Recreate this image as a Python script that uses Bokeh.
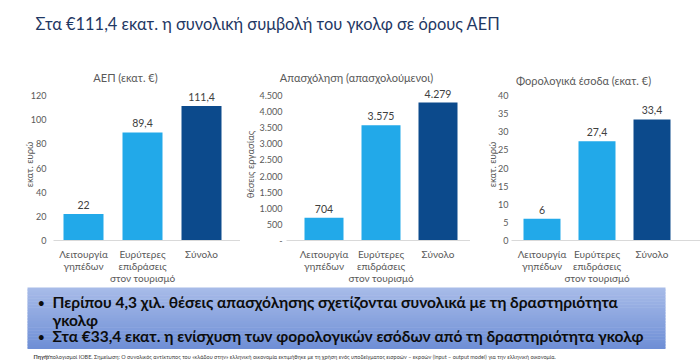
from bokeh.plotting import figure
from bokeh.layouts import column, row
from bokeh.models import Range1d, FixedTicker
from bokeh.core.properties import value
from bokeh.embed import file_html
from bokeh.resources import INLINE

FONT = "Lato"

# ---------------- data ----------------
page_title = "Στα €111,4 εκατ. η συνολική συμβολή του γκολφ σε όρους ΑΕΠ"
categories = ["Λειτουργία\nγηπέδων", "Ευρύτερες\nεπιδράσεις\nστον τουρισμό", "Σύνολο"]
bar_colors = ["#22A9E9", "#22A9E9", "#0C4A8C"]

chart_titles = ["ΑΕΠ (εκατ. €)", "Απασχόληση (απασχολούμενοι)", "Φορολογικά έσοδα (εκατ. €)"]

gdp_ylabel = "εκατ. ευρώ"
gdp_values = [22, 89.4, 111.4]
gdp_value_labels = ["22", "89,4", "111,4"]
gdp_ticks = [0, 20, 40, 60, 80, 100, 120]
gdp_tick_labels = ["0", "20", "40", "60", "80", "100", "120"]

jobs_ylabel = "θέσεις εργασίας"
jobs_values = [704, 3575, 4279]
jobs_value_labels = ["704", "3.575", "4.279"]
jobs_ticks = [0, 500, 1000, 1500, 2000, 2500, 3000, 3500, 4000, 4500]
jobs_tick_labels = ["-", "500", "1.000", "1.500", "2.000", "2.500", "3.000", "3.500", "4.000", "4.500"]

tax_ylabel = "εκατ. ευρώ"
tax_values = [6, 27.4, 33.4]
tax_value_labels = ["6", "27,4", "33,4"]
tax_ticks = [0, 5, 10, 15, 20, 25, 30, 35, 40]
tax_tick_labels = ["0", "5", "10", "15", "20", "25", "30", "35", "40"]

bullets = [
    "Περίπου 4,3 χιλ. θέσεις απασχόλησης σχετίζονται συνολικά με τη δραστηριότητα\nγκολφ",
    "Στα €33,4 εκατ. η ενίσχυση των φορολογικών εσόδων από τη δραστηριότητα γκολφ",
]
note_bold = "Πηγή:"
note_text = ("Υπολογισμοί ΙΟΒΕ. Σημείωση: Ο συνολικός αντίκτυπος του «κλάδου στην» ελληνική "
             "οικονομία εκτιμήθηκε με τη χρήση ενός υποδείγματος εισροών – εκροών "
             "(input – output model) για την ελληνική οικονομία.")

# ---------------- layout constants ----------------
TOP_H = 88
FRAME_H = 152    # plot frame height: top tick 7px below its top, value 0 at its bottom
TOP_TICK_PX = 7
AXIS_B = 44      # room under the plot frame for the category axis
BOTTOM_H = 76
GREY = "#595959"


def blank(width, height):
    p = figure(width=width, height=height, x_range=Range1d(0, width), y_range=Range1d(height, 0),
               x_axis_location=None, y_axis_location=None, output_backend="svg",
               toolbar_location=None, min_border=0)
    p.xgrid.visible = False
    p.ygrid.visible = False
    p.outline_line_color = None
    return p


def make_chart(width, left_px, first_cx, spacing, bar_px, top_tick, values, vlabels,
               ticks, tick_labels, ylabel, lab_standoff, ylab_standoff):
    scale = (FRAME_H - TOP_TICK_PX) / top_tick
    x0 = (left_px - first_cx) / spacing
    x1 = (width - first_cx) / spacing
    p = figure(frame_width=width - left_px, frame_height=FRAME_H,
               x_range=Range1d(x0, x1), y_range=Range1d(0, FRAME_H / scale),
               output_backend="svg", toolbar_location=None,
               min_border_left=left_px, min_border_right=0, min_border_top=0,
               min_border_bottom=AXIS_B)
    p.xgrid.visible = False
    p.ygrid.visible = False
    p.outline_line_color = None

    xs = list(range(len(values)))

    xa = p.xaxis[0]
    xa.ticker = FixedTicker(ticks=xs)
    xa.major_label_overrides = {i: c for i, c in zip(xs, categories)}
    xa.axis_line_color = "#D9D9D9"
    xa.axis_line_width = 1
    xa.major_tick_line_color = None
    xa.minor_tick_line_color = None
    xa.major_tick_out = 0
    xa.major_tick_in = 0
    xa.minor_tick_out = 0
    xa.major_label_standoff = 7
    xa.major_label_text_font = FONT
    xa.major_label_text_font_size = "10px"
    xa.major_label_text_line_height = 1.02
    xa.major_label_text_color = GREY

    ax = p.yaxis[0]
    ax.ticker = FixedTicker(ticks=ticks)
    ax.major_label_overrides = {t: l for t, l in zip(ticks, tick_labels)}
    ax.axis_line_color = None
    ax.major_tick_line_color = None
    ax.minor_tick_line_color = None
    ax.major_tick_out = 0
    ax.major_tick_in = 0
    ax.minor_tick_out = 0
    ax.major_label_text_font = FONT
    ax.major_label_text_font_size = "9px"
    ax.major_label_text_color = GREY
    ax.major_label_standoff = lab_standoff
    ax.axis_label = ylabel
    ax.axis_label_text_font = FONT
    ax.axis_label_text_font_size = "9.5px"
    ax.axis_label_text_font_style = "normal"
    ax.axis_label_text_color = GREY
    ax.axis_label_standoff = ylab_standoff

    p.vbar(x=xs, top=values, width=bar_px / spacing, fill_color=bar_colors, line_color=None)
    p.text(x=xs, y=[v + 9 / scale for v in values], text=vlabels, text_align="center",
           text_baseline="middle", text_font=value(FONT), text_font_size="10.5px",
           text_color="#404040")
    return p


# ---------------- title strip (page title + chart titles) ----------------
tp = blank(700, TOP_H)
tp.text(x=[35], y=[23], text=[page_title], text_baseline="middle", text_font=value(FONT),
        text_font_size="16.4px", text_color="#1F3864")
tp.text(x=[125, 356, 583], y=[77, 77, 80], text=chart_titles, text_align="center",
        text_baseline="middle", text_font=value(FONT), text_font_size="11px",
        text_color=GREY)

# ---------------- charts ----------------
c1 = make_chart(240, 53, 83, 59, 40, 120, gdp_values, gdp_value_labels, gdp_ticks,
                gdp_tick_labels, gdp_ylabel, 7, -7)
c2 = make_chart(230, 46, 83.5, 57, 39, 4500, jobs_values, jobs_value_labels, jobs_ticks,
                jobs_tick_labels, jobs_ylabel, 4, 0)
c3 = make_chart(230, 41, 71.5, 55, 37, 40, tax_values, tax_value_labels, tax_ticks,
                tax_tick_labels, tax_ylabel, 3, -3)

# ---------------- bottom box ----------------
bp = blank(700, BOTTOM_H)
top_c = (167, 187, 232)
bot_c = (111, 143, 214)
n = 40
bx0, bx1, by0, by1 = 27, 665, 1, 62
for i in range(n):
    f = i / (n - 1)
    c = tuple(int(round(a + (b - a) * f)) for a, b in zip(top_c, bot_c))
    bp.quad(left=bx0, right=bx1, top=by0 + (by1 - by0) * i / n,
            bottom=by0 + (by1 - by0) * (i + 1) / n + 0.5,
            fill_color="#%02x%02x%02x" % c, line_color=None)
bp.text(x=[37, 37], y=[16, 50], text=["•", "•"], text_baseline="middle",
        text_font=value(FONT), text_font_size="13px", text_color="#0D0D0D")
bp.text(x=[52, 52], y=[6, 40], text=bullets, text_baseline="top", text_font=value(FONT),
        text_font_size="15.5px", text_font_style="bold", text_line_height=1.03,
        text_color="#0D0D0D")
bp.text(x=[33], y=[70], text=[note_bold], text_baseline="middle", text_font=value(FONT),
        text_font_size="5.5px", text_font_style="bold", text_color="#404040")
bp.text(x=[46], y=[70], text=[note_text], text_baseline="middle", text_font=value(FONT),
        text_font_size="5.5px", text_color="#404040")

layout = column(tp, row(c1, c2, c3), bp)
open("out.html", "w").write(file_html(layout, INLINE))
